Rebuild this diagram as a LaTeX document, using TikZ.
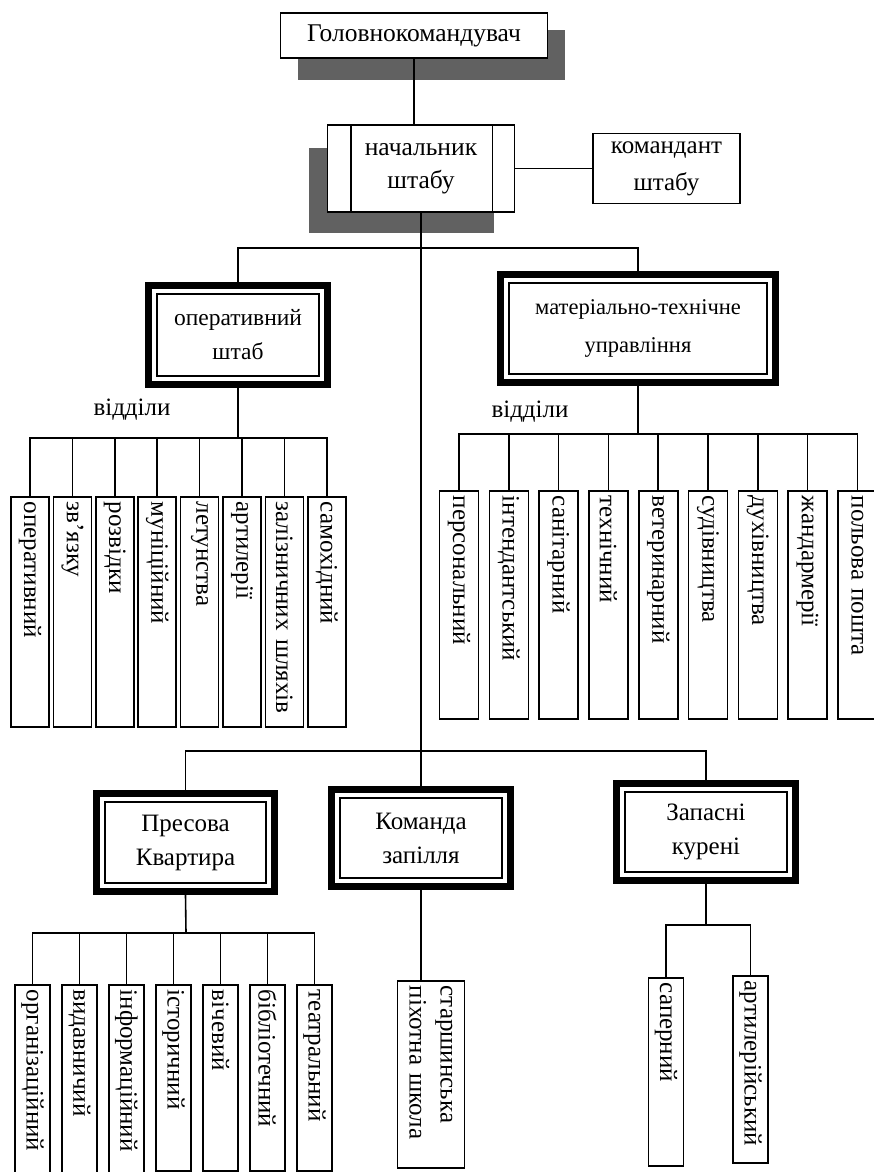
\documentclass[tikz,border=0pt]{standalone}
\usepackage{fontspec}
\setmainfont{Liberation Serif}
\usetikzlibrary{fit}
\begin{document}
\begin{tikzpicture}[x=1pt,y=1pt,
  txt/.style={font=\fontsize{25}{30}\selectfont},
  plainbox/.style={draw, line width=1.6pt, fill=white, align=center, inner sep=0pt, font=\fontsize{25.5}{33}\selectfont},
  chiefbox/.style={draw, line width=2.4pt, fill=white, align=center, inner sep=0pt, font=\fontsize{25}{34}\selectfont},
  outerframe/.style={draw, line width=7pt, inner sep=7pt},
  dept/.style={draw, line width=1.6pt, fill=white, rotate=-90, anchor=west, align=left, inner xsep=5pt, inner ysep=0pt, font=\fontsize{25}{31}\selectfont},
  wire/.style={line width=1.6pt},
  shadowfill/.style={fill=black!62, draw=none}]
\useasboundingbox (0,0) rectangle (874,-1172);
\fill[white] (0,0) rectangle (874,-1172);
\begin{scope}
\clip (0,0) rectangle (874,-1172);
% shadows
\fill[shadowfill] (298,-30) rectangle (565,-80);
\fill[shadowfill] (309,-148) rectangle (494,-233);
% top level
\node[plainbox, minimum width=267pt, minimum height=45pt] (top) at (414,-35.5) {Головнокомандувач};
\node[plainbox, minimum width=187pt, minimum height=87pt] (chief) at (421,-168.5) {начальник\\штабу};
\draw[wire] ([xshift=24pt]chief.north west) -- ([xshift=24pt]chief.south west);
\draw[wire] ([xshift=-23pt]chief.north east) -- ([xshift=-23pt]chief.south east);
\node[plainbox, minimum width=147pt, minimum height=70pt, font=\fontsize{25}{37}\selectfont] (kom) at (666.5,-168.5) {командант\\штабу};
\draw[wire] (top.south) -- (top.south |- chief.north);
\draw[wire] (chief.east) -- (kom.west);
% second level
\node[chiefbox, minimum width=162pt, minimum height=82pt, font=\fontsize{23.5}{34}\selectfont] (ops) at (238,-335) {оперативний\\штаб};
\node[outerframe, fit=(ops)] (opsF) {};
\node[chiefbox, minimum width=258pt, minimum height=91pt, font=\fontsize{22.5}{38}\selectfont] (mtu) at (638,-328.5) {матеріально-технічне\\управління};
\node[outerframe, fit=(mtu)] (mtuF) {};
% third level
\node[chiefbox, minimum width=161pt, minimum height=81pt] (pres) at (185.5,-842.5) {Пресова\\Квартира};
\node[outerframe, fit=(pres)] (presF) {};
\node[chiefbox, minimum width=162pt, minimum height=80pt] (koma) at (421,-838) {Команда\\запілля};
\node[outerframe, fit=(koma)] (komaF) {};
\node[chiefbox, minimum width=162pt, minimum height=80pt] (zap) at (706,-832) {Запасні\\курені};
\node[outerframe, fit=(zap)] (zapF) {};
% trunk and buses
\coordinate (ubus) at (421,-248);
\coordinate (bbus) at (421,-751);
\draw[wire] (chief.south) -- (komaF.north);
\draw[wire] (opsF.north) |- (ubus) -| (mtuF.north);
\draw[wire] (presF.north) |- (bbus) -| (zapF.north);
% labels
\node[txt] (v1) at (132,-410) {відділи};
\node[txt] (v2) at (530,-412) {відділи};
% operational departments
\coordinate (obus) at (238,-438);
\draw[wire] (opsF.south) -- (obus);
\foreach \t [count=\k from 0] in {оперативний,зв'язку,розвідки,муніційний,летунства,артилерії,залізничних шляхів,самохідний} {
  \node[dept, minimum width=230pt, minimum height=38pt, text width=220pt] (o\k) at ({30+42.4*\k},-496) {\t};
  \draw[wire] (o\k.west) |- (obus);
}
% material-technical departments
\coordinate (mbus) at (638,-434);
\draw[wire] (mtuF.south) -- (mbus);
\foreach \t [count=\k from 0] in {персональний,інтендантський,санітарний,технічний,ветеринарний,судівництва,духівництва,жандармерії,польова пошта} {
  \node[dept, minimum width=228pt, minimum height=39pt, text width=218pt] (m\k) at ({459+49.8*\k},-490) {\t};
  \draw[wire] (m\k.west) |- (mbus);
}
% press departments
\coordinate (pbus) at (186,-933);
\draw[wire] (presF.south) -- (pbus);
\foreach \t [count=\k from 0] in {організаційний,видавничий,інформаційний,історичний,вічевий,бібліотечний,театральний} {
  \pgfmathsetmacro{\hh}{\k<3 ? 200 : 186}
  \pgfmathsetmacro{\tw}{\hh-10}
  \node[dept, minimum width=\hh pt, minimum height=35pt, text width=\tw pt] (p\k) at ({32.5+47*\k},-984) {\t};
  \draw[wire] (p\k.west) |- (pbus);
}
% rear command school
\node[dept, minimum width=187pt, minimum height=67pt, text width=177pt] (st) at (431,-980) {старшинська\\піхотна школа};
\draw[wire] (komaF.south) -- (komaF.south |- st.west);
% reserve battalions
\coordinate (zbus) at (706,-925);
\draw[wire] (zapF.south) -- (zbus);
\node[dept, minimum width=188pt, minimum height=35pt, text width=178pt] (s1) at (666,-977) {саперний};
\node[dept, minimum width=187pt, minimum height=35pt, text width=177pt] (s2) at (750.5,-975) {артилерійський};
\draw[wire] (s1.west) |- (zbus);
\draw[wire] (s2.west) |- (zbus);
\end{scope}
\end{tikzpicture}
\end{document}
